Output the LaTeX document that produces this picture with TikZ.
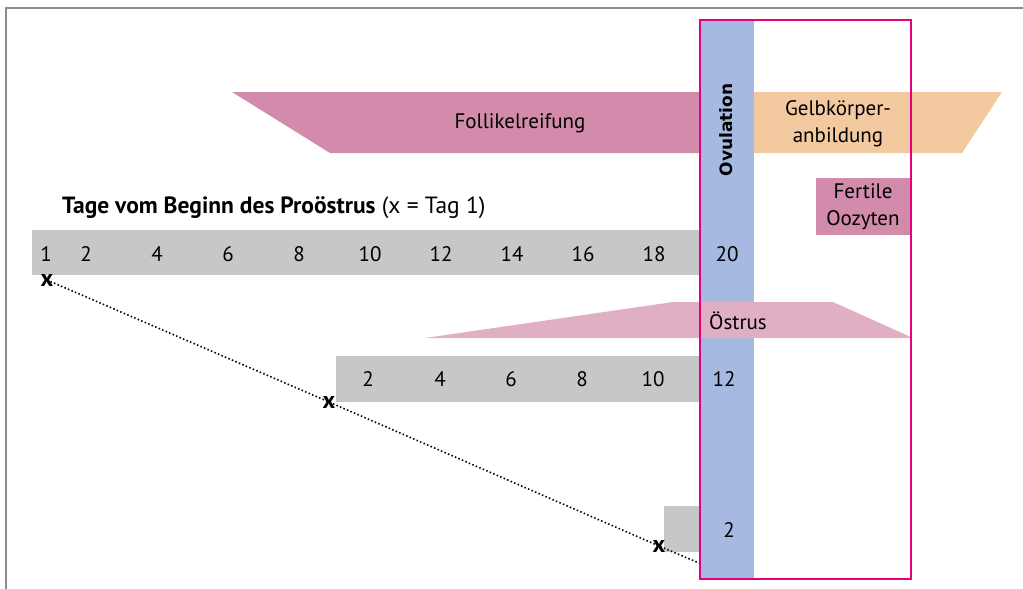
\documentclass[tikz,border=0pt]{standalone}
\usepackage{fontspec}
\setmainfont{PT Sans}
\newfontfamily\ovfont{DejaVu Sans}
\begin{document}
\begin{tikzpicture}[x=1pt,y=-1pt,
  lbl/.style={font=\fontsize{21}{27}\selectfont, inner sep=0pt, text=black},
  num/.style={lbl, anchor=center},
  xmark/.style={font=\fontsize{24}{26}\selectfont\bfseries, inner sep=0pt},
  bar/.style={fill=barGray},
  connector/.style={line width=1.6pt, dash pattern=on 1.5pt off 2.3pt, black}]
\definecolor{barGray}{HTML}{C6C7C6}
\definecolor{folPink}{HTML}{D28BAB}
\definecolor{oesPink}{HTML}{E0AFC4}
\definecolor{gelbOr}{HTML}{F3C9A0}
\definecolor{ovBlue}{HTML}{A6B9E0}
\definecolor{magLine}{HTML}{E6007E}
\definecolor{frameGray}{HTML}{8C8C8C}
\useasboundingbox (0,0) rectangle (1023,589);
% frame
\draw[frameGray, line width=2.5pt] (1023,8) -- (6,8) -- (6,589);
% blue ovulation column
\fill[ovBlue] (701,20) rectangle (754,579);
% Follikelreifung
\fill[folPink] (232,92) -- (701,92) -- (701,153) -- (330,153) -- cycle;
% Gelbkoerper
\fill[gelbOr] (754,92) -- (1002,92) -- (962,153) -- (754,153) -- cycle;
% Fertile Oozyten
\fill[folPink] (816,178) rectangle (910,235);
% Oestrus
\fill[oesPink] (425,338) -- (673,302) -- (833,302) -- (913,338) -- cycle;
% gray bars
\fill[bar] (32,230) rectangle (701,275);
\fill[bar] (336,356) rectangle (701,402);
\fill[bar] (664,506) rectangle (701,552);
% magenta rectangle
\draw[magLine, line width=1.5pt] (700,20) rectangle (911,579);
% texts
\node[lbl] (fol) at (520,123) {Follikelreifung};
\node[lbl, align=center] (gelb) at (838,124) {Gelbkörper-\\anbildung};
\node[lbl, align=center] (fert) at (863,207) {Fertile\\Oozyten};
\node[lbl, anchor=west] (oes) at (709,321) {Östrus};
\node[font=\ovfont\bfseries\fontsize{17}{20}\selectfont, rotate=90, inner sep=0pt] (ov) at (726,130) {Ovulation};
\node[lbl, anchor=west, font=\fontsize{23.5}{27}\selectfont] (title) at (62,208) {\textbf{Tage vom Beginn des Proöstrus} (x = Tag 1)};
% numbers row 1
\foreach \n/\x in {1/46,2/86,4/157,6/228,8/299,10/370,12/441,14/512,16/583,18/654,20/727}
  \node[num] (a\n) at (\x,254) {\n};
% numbers row 2
\foreach \n/\x in {2/368,4/440,6/511,8/582,10/653,12/724}
  \node[num] (b\n) at (\x,379) {\n};
\node[num] (c2) at (729,530) {2};
% dotted connector
\coordinate (p1) at (47,280);
\coordinate (p2) at (329,402);
\coordinate (p3) at (659,546);
\coordinate (pend) at (699,563);
\draw[connector] (p1) -- (p2) -- (p3) -- (pend);
\node[xmark] (x1) at (p1) {x};
\node[xmark] (x2) at (p2) {x};
\node[xmark] (x3) at (p3) {x};
\end{tikzpicture}
\end{document}
